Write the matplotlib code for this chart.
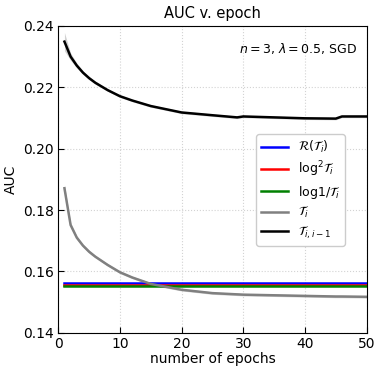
import numpy as np
from matplotlib import pyplot as plt

# values, one per epoch listed in `epochs`
epochs = [1, 2, 3, 4, 5, 6, 8, 10, 12, 15, 20, 25, 29, 30, 35, 40, 45, 46, 50]
auc_T_i = [0.1871, 0.1751, 0.1710, 0.1684, 0.1664, 0.1648, 0.1621, 0.1597,
           0.1580, 0.1559, 0.1540, 0.1529, 0.1525, 0.1524, 0.1522, 0.1520,
           0.1518, 0.1518, 0.1517]
std_T_i = [0.0012, 0.0008, 0.0006, 0.0005, 0.0005, 0.0004, 0.0004, 0.0004,
           0.0004, 0.0004, 0.0004, 0.0004, 0.0004, 0.0004, 0.0004, 0.0004,
           0.0004, 0.0004, 0.0004]
auc_T_ii = [0.2349, 0.2300, 0.2271, 0.2248, 0.2230, 0.2215, 0.2191, 0.2171,
            0.2157, 0.2139, 0.2118, 0.2109, 0.2102, 0.2105, 0.2102, 0.2099,
            0.2098, 0.2105, 0.2105]
std_T_ii = [0.0030, 0.0012, 0.0008, 0.0006, 0.0005, 0.0005, 0.0004, 0.0004,
            0.0004, 0.0004, 0.0004, 0.0004, 0.0004, 0.0004, 0.0004, 0.0004,
            0.0004, 0.0004, 0.0004]

# constant baselines
auc_R = 0.1563
auc_log2 = 0.1554
auc_loginv = 0.1553

labels = [r'$\mathcal{R}(\mathcal{T}_i)$', r'log$^2\mathcal{T}_i$',
          r'log$1/\mathcal{T}_i$', r'$\mathcal{T}_i$', r'$\mathcal{T}_{i,i-1}$']

fig = plt.figure(figsize=(3.76, 3.66), dpi=100)
ax = fig.add_axes([0.155, 0.091, 0.82, 0.838])

x = np.array(epochs)
x_span = [epochs[0], epochs[-1]]
ax.plot(x_span, [auc_R] * 2, color='blue', lw=1.8, label=labels[0])
ax.plot(x_span, [auc_log2] * 2, color='red', lw=1.8, label=labels[1])
ax.plot(x_span, [auc_loginv] * 2, color='green', lw=1.8, label=labels[2])

for y, s, c, lab in [(auc_T_i, std_T_i, 'gray', labels[3]),
                     (auc_T_ii, std_T_ii, 'black', labels[4])]:
    y = np.array(y)
    s = np.array(s)
    ax.fill_between(x, y - s, y + s, color='gray', alpha=0.35, lw=0)
    ax.plot(x, y, color=c, lw=1.8, label=lab)

ax.set_xlim(0, 50)
ax.set_ylim(0.14, 0.24)
ax.set_yticks([0.14, 0.16, 0.18, 0.20, 0.22, 0.24])
ax.set_xticks([0, 10, 20, 30, 40, 50])
ax.tick_params(direction='in', length=4, labelsize=10, pad=3)
ax.grid(True, ls=':', color='lightgray', lw=0.8)

ax.set_title('AUC v. epoch', fontsize=10.5)
ax.set_xlabel('number of epochs', fontsize=10, labelpad=1)
ax.set_ylabel('AUC', fontsize=10)
ax.text(0.97, 0.95, r'$n=3$, $\lambda=0.5$, SGD', transform=ax.transAxes,
        ha='right', va='top', fontsize=9)

ax.legend(loc='center right', bbox_to_anchor=(0.95, 0.465), fontsize=9,
          handlelength=2.1, labelspacing=0.35, framealpha=1)

fig.savefig('out.png', dpi=100)
